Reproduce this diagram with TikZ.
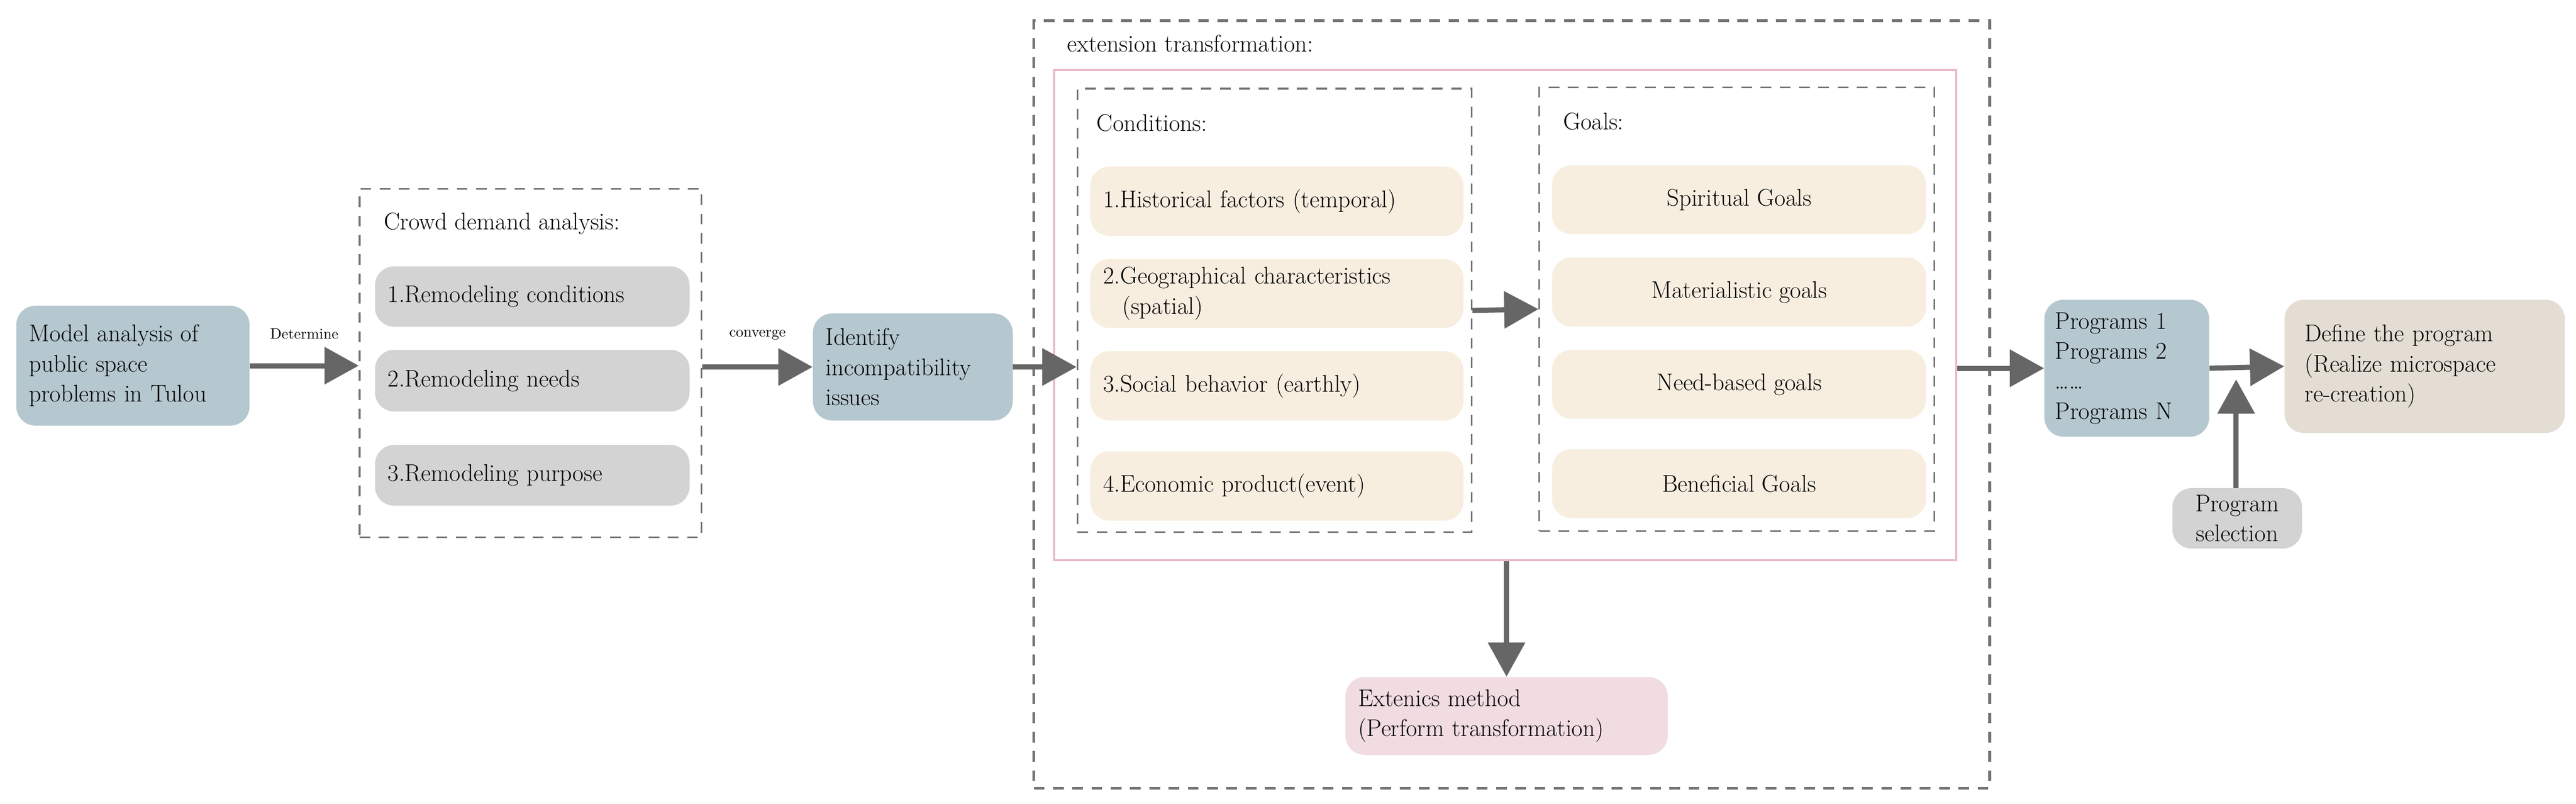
\documentclass[tikz,border=0pt]{standalone}
\usetikzlibrary{arrows.meta}
\begin{document}
\begin{tikzpicture}[
  every node/.style={font=\fontsize{16}{20}\selectfont},
  box/.style={rounded corners=0.45cm, inner xsep=0.3cm, align=left, draw=none},
  dbox/.style={draw=black!55, dash pattern=on 0.25cm off 0.2cm, line width=0.04cm},
  fat/.style={draw=black!60, line width=0.12cm, -{Triangle[length=0.8cm,width=0.85cm]}},
  lbl/.style={font=\fontsize{10}{12}\selectfont}
]
\definecolor{bblue}{HTML}{B6C8CF}
\definecolor{bgray}{HTML}{D3D3D3}
\definecolor{bcream}{HTML}{F8EEE0}
\definecolor{bpink}{HTML}{F1DCE2}
\definecolor{btan}{HTML}{E3DDD3}
\definecolor{pinkline}{HTML}{E9B9C7}
\useasboundingbox (0,0) rectangle (60.18,-18.77);

\node[box, fill=bblue, minimum width=5.45cm, minimum height=2.8cm, text width=4.85cm] (model) at (3.105,-8.54) {Model analysis of\\public space\\problems in Tulou};

\node[dbox, minimum width=7.99cm, minimum height=8.14cm] (crowd) at (12.395,-8.48) {};
\node[anchor=west] (crowdt) at (8.85,-5.22) {Crowd demand analysis:};
\node[box, fill=bgray, minimum width=7.35cm, minimum height=1.41cm, text width=6.75cm] (g1) at (12.435,-6.925) {1.Remodeling conditions};
\node[box, fill=bgray, minimum width=7.35cm, minimum height=1.44cm, text width=6.75cm] (g2) at (12.435,-8.89) {2.Remodeling needs};
\node[box, fill=bgray, minimum width=7.35cm, minimum height=1.42cm, text width=6.75cm] (g3) at (12.435,-11.10) {3.Remodeling purpose};

\node[box, fill=bblue, minimum width=4.67cm, minimum height=2.5cm, text width=4.07cm] (ident) at (21.325,-8.57) {Identify\\incompatibility\\issues};

\node[dbox, line width=0.07cm, minimum width=22.33cm, minimum height=17.93cm] (outer) at (35.315,-9.445) {};
\node[anchor=west] (outert) at (24.81,-1.02) {extension transformation:};
\node[draw=pinkline, line width=0.05cm, minimum width=21.07cm, minimum height=11.44cm] (pink) at (35.165,-7.36) {};

\node[dbox, minimum width=9.21cm, minimum height=10.36cm] (cond) at (29.775,-7.25) {};
\node[anchor=west] (condt) at (25.5,-2.87) {Conditions:};
\node[box, fill=bcream, minimum width=8.72cm, minimum height=1.62cm, text width=8.12cm] (c1) at (29.83,-4.70) {1.Historical factors (temporal)};
\node[box, fill=bcream, minimum width=8.72cm, minimum height=1.61cm, text width=8.12cm] (c2) at (29.83,-6.855) {2.Geographical characteristics\\\hspace*{0.45cm}(spatial)};
\node[box, fill=bcream, minimum width=8.72cm, minimum height=1.62cm, text width=8.12cm] (c3) at (29.83,-9.01) {3.Social behavior (earthly)};
\node[box, fill=bcream, minimum width=8.72cm, minimum height=1.62cm, text width=8.12cm] (c4) at (29.83,-11.35) {4.Economic product(event)};

\node[dbox, minimum width=9.23cm, minimum height=10.36cm] (goals) at (40.575,-7.22) {};
\node[anchor=west] (goalst) at (36.4,-2.83) {Goals:};
\node[box, fill=bcream, minimum width=8.74cm, minimum height=1.61cm, align=center] (o1) at (40.63,-4.665) {Spiritual Goals};
\node[box, fill=bcream, minimum width=8.74cm, minimum height=1.61cm, align=center] (o2) at (40.63,-6.82) {Materialistic goals};
\node[box, fill=bcream, minimum width=8.74cm, minimum height=1.61cm, align=center] (o3) at (40.63,-8.975) {Need-based goals};
\node[box, fill=bcream, minimum width=8.74cm, minimum height=1.61cm, align=center] (o4) at (40.63,-11.295) {Beneficial Goals};

\node[box, fill=bpink, minimum width=7.53cm, minimum height=1.82cm, text width=6.93cm] (ext) at (35.195,-16.72) {Extenics method\\(Perform transformation)};

\node[box, fill=bblue, minimum width=3.85cm, minimum height=3.2cm, text width=3.35cm, inner xsep=0.25cm] (prog) at (49.685,-8.6) {Programs 1\\Programs 2\\\ldots\ldots\\Programs N};
\node[box, fill=btan, minimum width=6.55cm, minimum height=3.11cm, text width=5.6cm, inner xsep=0.45cm] (def) at (56.645,-8.555) {Define the program\\(Realize microspace\\re-creation)};
\node[box, fill=bgray, minimum width=3.03cm, minimum height=1.41cm, align=center, inner xsep=0.1cm] (sel) at (52.265,-12.105) {Program\\selection};

\draw[fat] (model.east) -- (crowd.west |- model.east) node[lbl, midway, above=0.45cm] {Determine};
\draw[fat] (crowd.east |- ident.west) -- (ident.west) node[lbl, midway, above=0.45cm] {converge};
\draw[fat] (ident.east) -- (ident.east -| cond.west);
\draw[fat] (cond.east) -- (goals.west);
\draw[fat] (pink.south -| ext.north) -- (ext.north);
\draw[fat] (pink.east |- prog.west) -- (prog.west);
\draw[fat] (prog.east) -- (def.west);
\coordinate (selend) at (52.24,-8.86);
\draw[fat] (sel.north -| selend) -- (selend);
\end{tikzpicture}
\end{document}
